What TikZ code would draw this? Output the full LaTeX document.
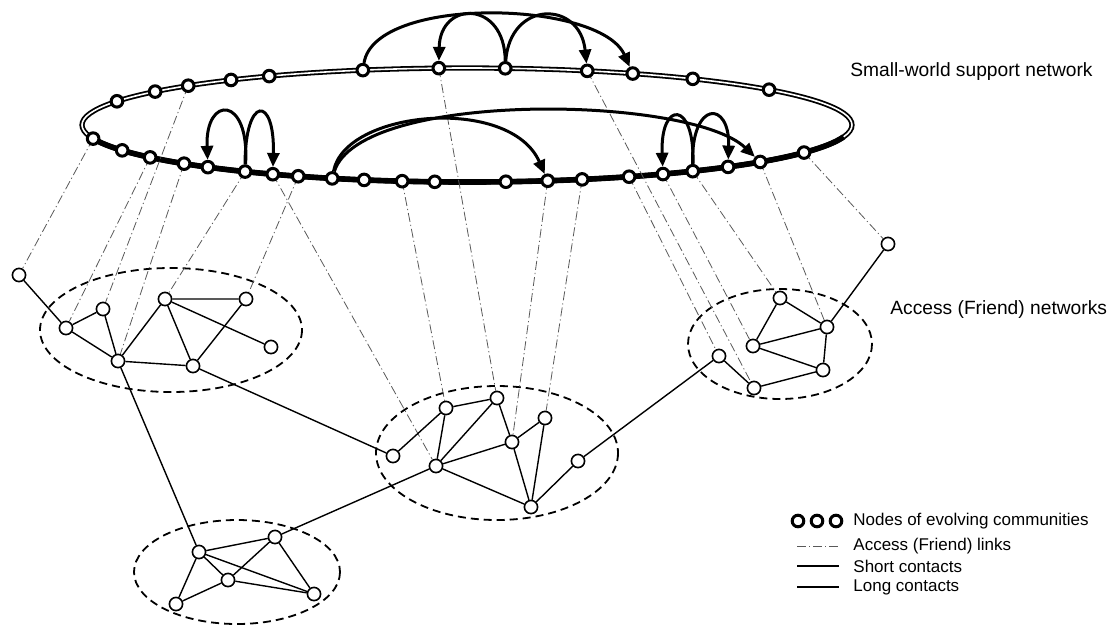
\documentclass[tikz,border=0pt]{standalone}
\usepackage{fontspec}
\setmainfont{Liberation Sans}
\usetikzlibrary{arrows.meta,positioning}
\tikzstyle{ringnode}=[draw,circle,fill=white,line width=1.5pt,inner sep=0pt,minimum size=5.8pt]
\tikzstyle{acnode}=[draw,circle,fill=white,line width=0.8pt,inner sep=0pt,minimum size=6.6pt]
\tikzstyle{friend}=[line width=0.7pt]
\tikzstyle{acc}=[black!65,line width=0.4pt,dash pattern=on 4.5pt off 1.5pt on 0.6pt off 1.5pt]
\tikzstyle{long}=[line width=1.5pt,-{Triangle[length=7pt,width=6pt]}]
\tikzstyle{grp}=[line width=0.9pt,dash pattern=on 4pt off 2.5pt]
\tikzstyle{lbl}=[font=\fontsize{9.6}{11}\selectfont,anchor=west,inner sep=0pt]
\tikzstyle{leg}=[font=\fontsize{8.5}{10}\selectfont,anchor=west,inner sep=0pt]

\begin{document}
\begin{tikzpicture}[x=0.5pt,y=-0.5pt]
  \useasboundingbox (0,0) rectangle (1118,628);

  % support ring
  \draw[line width=0.9pt,double,double distance=0.8pt] (467,125) ellipse [x radius=385, y radius=57];
  \draw[line width=2.8pt] (467,125) ++(12:385 and 57) arc[start angle=12, end angle=168, x radius=385, y radius=57];

  % ring nodes, back and front
  \foreach \a [count=\i] in {204.6,215.9,223.6,232.2,239.1,254.3,265.8,275.7,288.2,295.5,305.9,321.7}
    \path (467,125) ++(\a:385 and 57) coordinate (kp\i);
  \foreach \a [count=\i] in {166.2,153.6,145.4,137.3,132.3,125.2,120.3,116.0,110.5,105.5,99.7,94.8,84.2,77.9,72.6,65.1,59.4,54.1,47.3,40.4,28.9}
    \path (467,125) ++(\a:385 and 57) coordinate (fp\i);

  % access networks
  \node[acnode] (a0) at (19,275) {};
  \node[acnode] (a1) at (66,328) {};
  \node[acnode] (a2) at (103,309) {};
  \node[acnode] (a3) at (118,361) {};
  \node[acnode] (a4) at (165,299) {};
  \node[acnode] (a5) at (246,299) {};
  \node[acnode] (a6) at (271,347) {};
  \node[acnode] (a7) at (193,366) {};

  \node[acnode] (b1) at (393,456) {};
  \node[acnode] (b2) at (446,408) {};
  \node[acnode] (b3) at (497,398) {};
  \node[acnode] (b4) at (545,418) {};
  \node[acnode] (b5) at (512,442) {};
  \node[acnode] (b6) at (436,466) {};
  \node[acnode] (b7) at (578,461) {};
  \node[acnode] (b8) at (531,507) {};

  \node[acnode] (c1) at (199,552) {};
  \node[acnode] (c2) at (275,537) {};
  \node[acnode] (c3) at (228,580) {};
  \node[acnode] (c4) at (176,604) {};
  \node[acnode] (c5) at (314,594) {};

  \node[acnode] (d0) at (888,244) {};
  \node[acnode] (d1) at (719,356) {};
  \node[acnode] (d2) at (754,388) {};
  \node[acnode] (d3) at (753,346) {};
  \node[acnode] (d4) at (780,298) {};
  \node[acnode] (d5) at (827,327) {};
  \node[acnode] (d6) at (823,370) {};

  \draw[grp] (171,330) ellipse [x radius=131, y radius=62];
  \draw[grp] (497,453) ellipse [x radius=121, y radius=67];
  \draw[grp] (237,572) ellipse [x radius=103, y radius=52];
  \draw[grp] (780,344) ellipse [x radius=92, y radius=55];

  % access (friend) links
  \draw[acc] (fp1) -- (a0);
  \draw[acc] (fp3) -- (a1);
  \draw[acc] (kp3) -- (a2);
  \draw[acc] (fp4) -- (a3);
  \draw[acc] (fp6) -- (a4);
  \draw[acc] (fp8) -- (a5);
  \draw[acc] (fp7) -- (b6);
  \draw[acc] (fp11) -- (b2);
  \draw[acc] (kp7) -- (b3);
  \draw[acc] (fp14) -- (b5);
  \draw[acc] (fp15) -- (b4);
  \draw[acc] (kp9) -- (d2);
  \draw[acc] (fp16) -- (d1);
  \draw[acc] (fp17) -- (d3);
  \draw[acc] (fp18) -- (d4);
  \draw[acc] (fp20) -- (d5);
  \draw[acc] (fp21) -- (d0);

  % friend links
  \draw[friend] (a0) -- (a1) -- (a2) -- (a3) -- (a1);
  \draw[friend] (a3) -- (a4) -- (a5) -- (a7) -- (a3);
  \draw[friend] (a4) -- (a7) (a4) -- (a6);
  \draw[friend] (a3) -- (c1) (a7) -- (b1);
  \draw[friend] (b1) -- (b2) -- (b3) -- (b6) -- (b2);
  \draw[friend] (b3) -- (b5) -- (b6) -- (b8) -- (b5) -- (b4) -- (b8) -- (b7);
  \draw[friend] (b7) -- (d1) (b6) -- (c2);
  \draw[friend] (c1) -- (c2) -- (c5) -- (c3) -- (c4) -- (c1) -- (c3) -- (c2);
  \draw[friend] (c1) -- (c5);
  \draw[friend] (d1) -- (d2) -- (d6) -- (d5) -- (d4) -- (d3) -- (d5) -- (d0);
  \draw[friend] (d3) -- (d6);

  % ring nodes drawn over the ring
  \foreach \i in {1,...,12} \node[ringnode] (k\i) at (kp\i) {};
  \foreach \i in {1,...,21} \node[ringnode] (f\i) at (fp\i) {};

  % long contacts
  \draw[long] (k6) .. controls (375,-5) and (600,0) .. (k10);
  \draw[long] (k8) .. controls (505,0) and (440,0) .. (k7);
  \draw[long] (k8) .. controls (510,0) and (580,0) .. (k9);
  \draw[long] (f6) .. controls (250,95) and (205,95) .. (f5);
  \draw[long] (f6) .. controls (245,95) and (275,95) .. (f7);
  \draw[long] (f9) .. controls (345,110) and (510,95) .. (f14);
  \draw[long] (f9) .. controls (360,90) and (690,95) .. (f20);
  \draw[long] (f18) .. controls (695,100) and (660,100) .. (f17);
  \draw[long] (f18) .. controls (691,100) and (730,100) .. (f19);

  % labels
  \node[lbl] (swn) at (850,72) {Small-world support network};
  \node[lbl] (afn) at (890,310) {Access (Friend) networks};

  % legend
  \node[ringnode] (lg1) at (798,521) {};
  \node[ringnode] (lg2) at (817,521) {};
  \node[ringnode] (lg3) at (836,521) {};
  \node[leg] (lt1) at (853,521) {Nodes of evolving communities};
  \node[leg] (lt2) at (853,546) {Access (Friend) links};
  \node[leg] (lt3) at (853,566) {Short contacts};
  \node[leg] (lt4) at (853,587) {Long contacts};
  \coordinate (l2a) at (797,546); \coordinate (l2b) at (839,546);
  \coordinate (l3a) at (797,566); \coordinate (l3b) at (839,566);
  \coordinate (l4a) at (797,587); \coordinate (l4b) at (839,587);
  \draw[acc] (l2a) -- (l2b);
  \draw[line width=0.6pt] (l3a) -- (l3b);
  \draw[line width=0.9pt] (l4a) -- (l4b);
\end{tikzpicture}
\end{document}
